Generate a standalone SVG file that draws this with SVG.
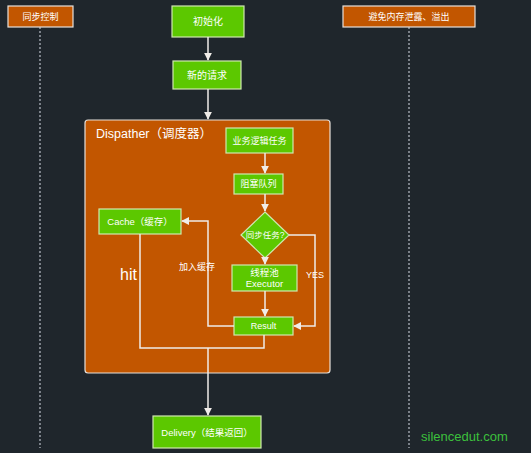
<svg xmlns="http://www.w3.org/2000/svg" width="531" height="453" viewBox="0 0 531 453">
<defs>
<style>
.bg{fill:#1f262c}
.org{fill:#c25600;stroke:#e6e0da;stroke-width:1.2}
.grn{fill:#5cc800;stroke:#cfe8b0;stroke-width:1.2}
.t{font-family:"Liberation Sans","Noto Sans CJK SC",sans-serif;fill:#ffffff;text-anchor:middle;dominant-baseline:central}
.ln{fill:none;stroke:#f0ece8;stroke-width:1.5}
.dot{fill:none;stroke:#9aa0a8;stroke-width:1.5;stroke-dasharray:2 2}
</style>
<marker id="ah" viewBox="0 0 10 10" refX="9" refY="5" markerWidth="8" markerHeight="8" markerUnits="userSpaceOnUse" orient="auto">
<path d="M0,0 L10,5 L0,10 z" fill="#f0ece8"/>
</marker>
</defs>
<rect class="bg" x="0" y="0" width="531" height="453"/>
<g id="lanes">
<line class="dot" x1="40" y1="27" x2="40" y2="448"/>
<line class="dot" x1="409" y1="27" x2="409" y2="448"/>
</g>
<g id="sync"><rect class="org" x="8" y="6" width="65" height="21"/><text class="t" x="40.5" y="16.5" font-size="9">同步控制</text></g>
<g id="leak"><rect class="org" x="343" y="6" width="132" height="21"/><text class="t" x="409" y="16.5" font-size="9">避免内存泄露、溢出</text></g>
<g id="dispatcher"><rect class="org" x="85" y="120" width="245" height="253" rx="3"/><text x="96" y="138" font-size="12.5" font-family="Liberation Sans,Noto Sans CJK SC,sans-serif" fill="#ffffff">Dispather（调度器）</text></g>
<g id="init"><rect class="grn" x="172" y="6" width="72" height="31"/><text class="t" x="208" y="21.5" font-size="10">初始化</text></g>
<g id="request"><rect class="grn" x="173" y="61" width="68" height="28"/><text class="t" x="207" y="75" font-size="10">新的请求</text></g>
<g id="task"><rect class="grn" x="226" y="128" width="67" height="25"/><text class="t" x="259.5" y="140.5" font-size="9">业务逻辑任务</text></g>
<g id="queue"><rect class="grn" x="234" y="174" width="49" height="20"/><text class="t" x="258.5" y="184" font-size="9">阻塞队列</text></g>
<g id="decision"><polygon class="grn" points="265,212 289,235 265,258 241,235"/><text class="t" x="265" y="235" font-size="8.5">同步任务?</text></g>
<g id="executor"><rect class="grn" x="232" y="265" width="65" height="26"/><text class="t" x="264.5" y="272" font-size="9.5">线程池</text><text class="t" x="264.5" y="283" font-size="9.5">Executor</text></g>
<g id="result"><rect class="grn" x="234" y="317" width="59" height="18"/><text class="t" x="263.5" y="326" font-size="9">Result</text></g>
<g id="cache"><rect class="grn" x="99" y="209" width="82" height="25"/><text class="t" x="140" y="221.5" font-size="9.5">Cache（缓存）</text></g>
<g id="delivery"><rect class="grn" x="153" y="416" width="108" height="32"/><text class="t" x="207" y="432" font-size="9.5">Delivery（结果返回）</text></g>
<g id="connectors">
<line class="ln" x1="208" y1="37" x2="208" y2="60" marker-end="url(#ah)"/>
<line class="ln" x1="208" y1="89" x2="208" y2="119" marker-end="url(#ah)"/>
<line class="ln" x1="265" y1="153" x2="265" y2="173" marker-end="url(#ah)"/>
<line class="ln" x1="265" y1="194" x2="265" y2="211" marker-end="url(#ah)"/>
<line class="ln" x1="265" y1="258" x2="265" y2="264" marker-end="url(#ah)"/>
<line class="ln" x1="265" y1="291" x2="265" y2="316" marker-end="url(#ah)"/>
<polyline class="ln" points="289,235 315,235 315,326 294,326" marker-end="url(#ah)"/>
<polyline class="ln" points="234,326 208,326 208,221 182,221" marker-end="url(#ah)"/>
<polyline class="ln" points="140,234 140,348 264,348 264,335"/>
<line class="ln" x1="208" y1="348" x2="208" y2="415" marker-end="url(#ah)"/>
</g>
<g id="labels">
<text x="120" y="280" font-size="16" font-family="Liberation Sans,sans-serif" fill="#ffffff">hit</text>
<text x="179" y="270" font-size="9" font-family="Liberation Sans,Noto Sans CJK SC,sans-serif" fill="#ffffff">加入缓存</text>
<text x="306" y="278" font-size="9" font-family="Liberation Sans,sans-serif" fill="#ffffff">YES</text>
<text x="421" y="441" font-size="13" font-family="Liberation Sans,sans-serif" fill="#3cc03c">silencedut.com</text>
</g>
</svg>
